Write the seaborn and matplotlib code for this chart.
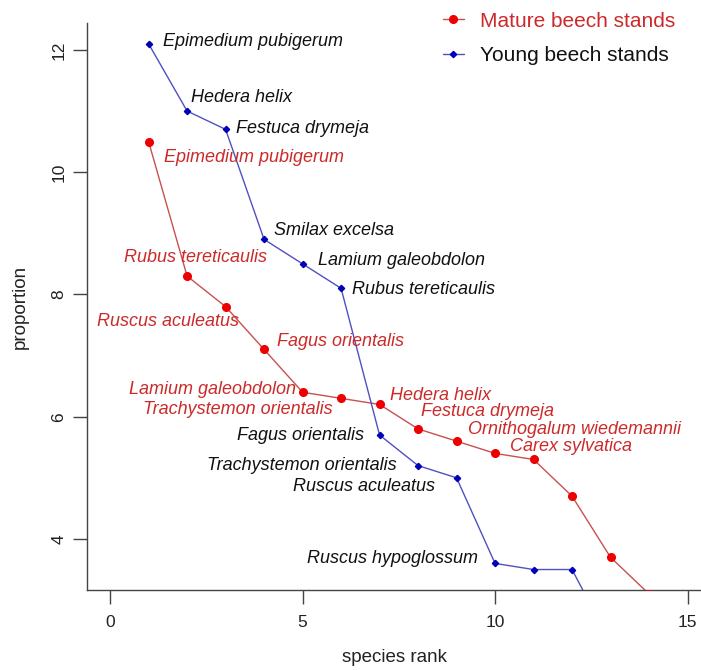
import matplotlib
matplotlib.use("Agg")
import matplotlib.pyplot as plt
import seaborn as sns
import pandas as pd
from matplotlib.lines import Line2D

# species rank abundance
mature_rank = list(range(1, 15))
mature_prop = [10.5, 8.3, 7.8, 7.1, 6.4, 6.3, 6.2, 5.8, 5.6, 5.4, 5.3, 4.7, 3.7, 3.1]
mature_species = ["Epimedium pubigerum", "Rubus tereticaulis", "Ruscus aculeatus",
                  "Fagus orientalis", "Lamium galeobdolon", "Trachystemon orientalis",
                  "Hedera helix", "Festuca drymeja", "Ornithogalum wiedemannii",
                  "Carex sylvatica"]

young_rank = list(range(1, 14))
young_prop = [12.1, 11.0, 10.7, 8.9, 8.5, 8.1, 5.7, 5.2, 5.0, 3.6, 3.5, 3.5, 2.3]
young_species = ["Epimedium pubigerum", "Hedera helix", "Festuca drymeja",
                 "Smilax excelsa", "Lamium galeobdolon", "Rubus tereticaulis",
                 "Fagus orientalis", "Trachystemon orientalis", "Ruscus aculeatus",
                 "Ruscus hypoglossum"]

# label placement relative to each point (pixels, alignment)
MATURE_OFFSETS = [(15, -16, "left"), (8, 19, "center"), (13, -15, "right"),
                  (13, 8, "left"), (-7, 3, "right"), (-8, -11, "right"),
                  (10, 9, "left"), (3, 17, "left"), (11, 12, "left"), (15, 7, "left")]
YOUNG_OFFSETS = [(14, 2, "left"), (4, 14, "left"), (10, 1, "left"), (10, 9, "left"),
                 (15, 3, "left"), (11, -1, "left"), (-16, 0, "right"),
                 (-21, 0, "right"), (-22, -9, "right"), (-17, 5, "right")]

RED_PT, RED_LN, RED_TX = "#ee0000", "#c85050", "#cc2a2a"
BLUE_PT, BLUE_LN = "#0000bb", "#5050c0"

sns.set_style("white")
plt.rcParams["font.family"] = ["Liberation Sans", "DejaVu Sans"]

fig = plt.figure(figsize=(7.01, 6.70), dpi=100)
ax = fig.add_axes([87 / 701, 80 / 670, 614 / 701, 567 / 670])

mature = pd.DataFrame({"rank": mature_rank, "prop": mature_prop})
young = pd.DataFrame({"rank": young_rank, "prop": young_prop})

sns.lineplot(data=mature, x="rank", y="prop", color=RED_LN, lw=1, ax=ax)
ax.plot(mature["rank"], mature["prop"], "o", color=RED_PT, ms=5.5, mec=RED_PT, zorder=3)
sns.lineplot(data=young, x="rank", y="prop", color=BLUE_LN, lw=1, ax=ax)
ax.plot(young["rank"], young["prop"], "D", color=BLUE_PT, ms=3.2, mec=BLUE_PT, zorder=3)

for name, x, y, (dx, dy, ha) in zip(mature_species, mature_rank, mature_prop, MATURE_OFFSETS):
    ax.annotate(name, (x, y), xytext=(dx, dy), textcoords="offset pixels",
                ha=ha, va="center", fontsize=13, style="italic", color=RED_TX)
for name, x, y, (dx, dy, ha) in zip(young_species, young_rank, young_prop, YOUNG_OFFSETS):
    ax.annotate(name, (x, y), xytext=(dx, dy), textcoords="offset pixels",
                ha=ha, va="center", fontsize=13, style="italic", color="#111111")

ax.set_xlim(-0.6, 15.35)
ax.set_ylim(3.165, 12.44)
ax.set_xticks([0, 5, 10, 15])
ax.set_yticks([4, 6, 8, 10, 12])
ax.tick_params(axis="both", direction="out", length=10, width=1, color="#444444",
               labelsize=12.5, labelcolor="#222222", pad=8, left=True, bottom=True)
ax.tick_params(axis="y", pad=5)
for lab in ax.get_yticklabels():
    lab.set_rotation(90)
    lab.set_va("center")
for side in ["top", "right"]:
    ax.spines[side].set_visible(False)
for side in ["left", "bottom"]:
    ax.spines[side].set_color("#444444")
    ax.spines[side].set_linewidth(1)
ax.set_xlabel("species rank", fontsize=13.5, color="#222222", labelpad=14)
ax.set_ylabel("proportion", fontsize=13.5, color="#222222", labelpad=16)
ax.grid(False)

handles = [Line2D([], [], color=RED_LN, lw=1, marker="o", ms=5.5, mfc=RED_PT, mec=RED_PT),
           Line2D([], [], color=BLUE_LN, lw=1, marker="D", ms=3.2, mfc=BLUE_PT, mec=BLUE_PT)]
leg = fig.legend(handles, ["Mature beech stands", "Young beech stands"],
                 loc="upper left", bbox_to_anchor=(424 / 701, 1 + 7 / 670),
                 frameon=False, fontsize=15, handlelength=1.0, handletextpad=0.8,
                 labelspacing=0.75)
leg.get_texts()[0].set_color(RED_TX)
leg.get_texts()[1].set_color("#111111")

fig.savefig("out.png", dpi=100)
